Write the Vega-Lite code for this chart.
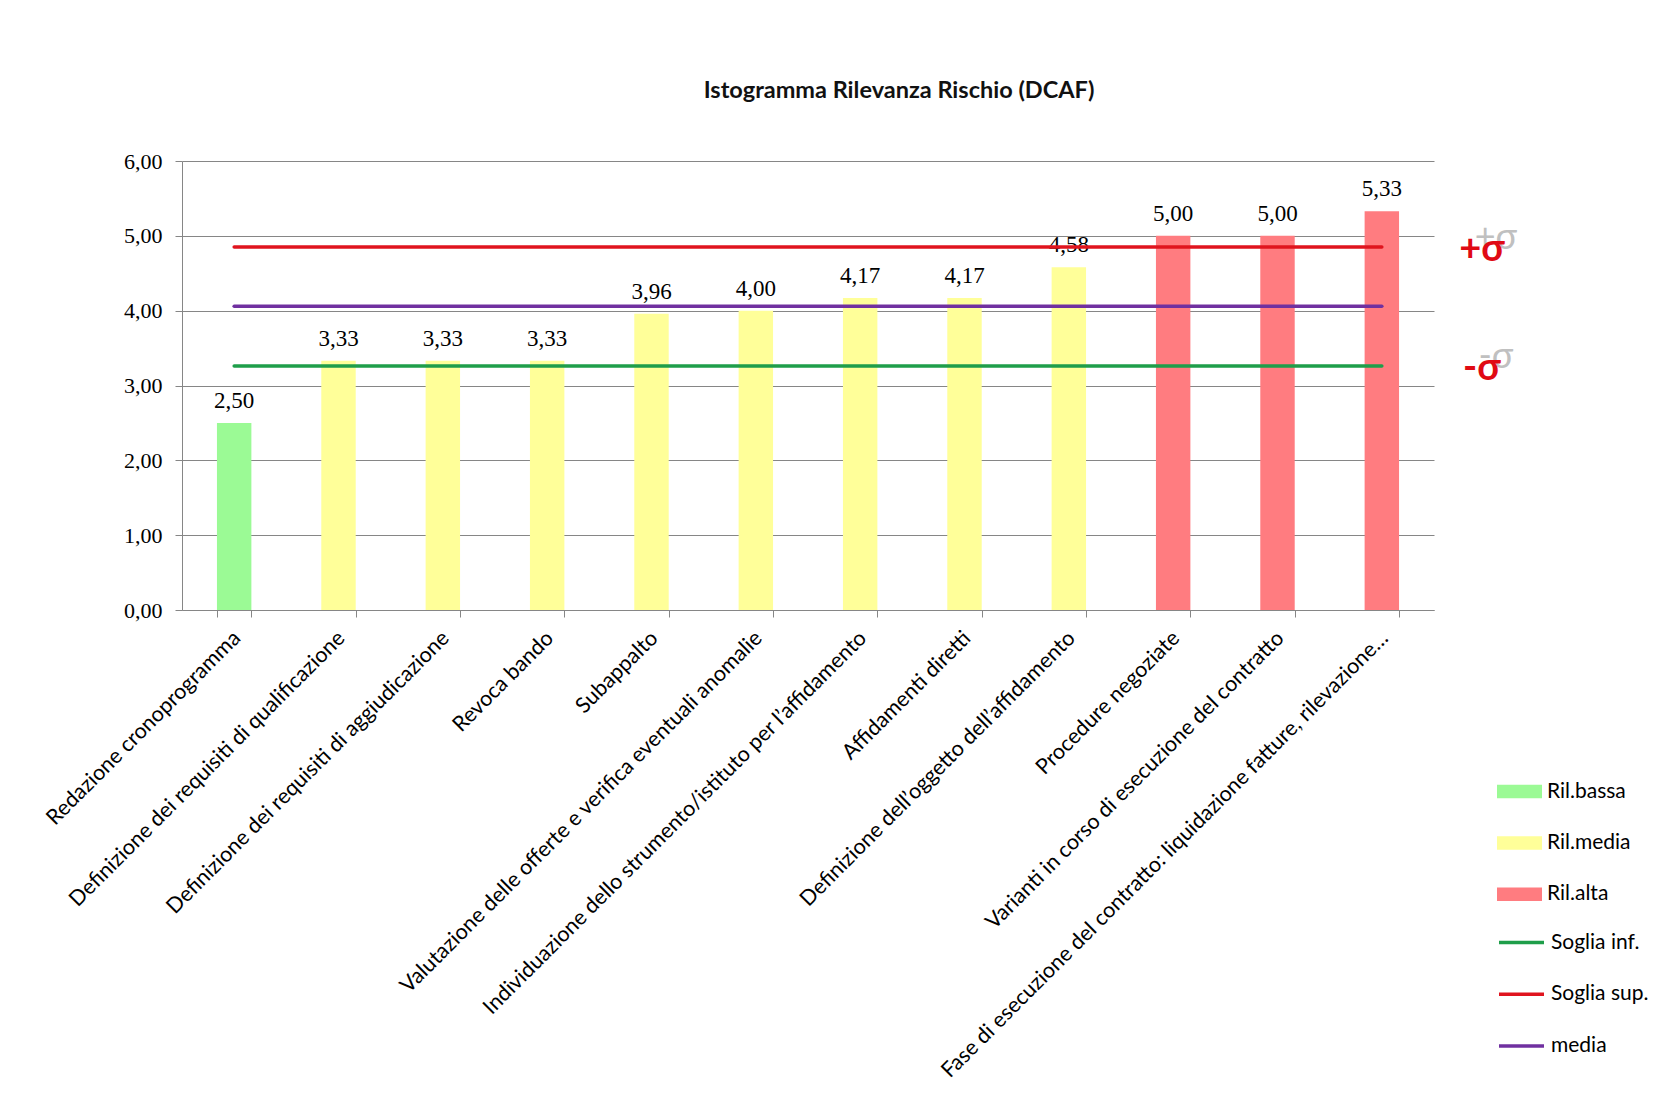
{
  "$schema": "https://vega.github.io/schema/vega-lite/v6.json",
  "width": 1252,
  "height": 449,
  "autosize": {"type": "none"},
  "padding": {"left": 182, "top": 161, "right": 245, "bottom": 504},
  "background": "white",
  "title": {
    "text": "Istogramma Rilevanza Rischio (DCAF)",
    "font": "Lato",
    "fontSize": 23.5,
    "fontWeight": "bold",
    "color": "#111111",
    "anchor": "middle",
    "frame": "group",
    "dx": 91,
    "offset": 48
  },
  "config": {
    "locale": {"number": {"decimal": ",", "thousands": ".", "grouping": [3], "currency": ["", " €"]}},
    "view": {"stroke": null}
  },
  "datasets": {
    "attivita": [
      {"attivita": "Redazione cronoprogramma", "valore": 2.50, "livello": "Ril.bassa"},
      {"attivita": "Definizione dei requisiti di qualificazione", "valore": 3.33, "livello": "Ril.media"},
      {"attivita": "Definizione dei requisiti di aggiudicazione", "valore": 3.33, "livello": "Ril.media"},
      {"attivita": "Revoca bando", "valore": 3.33, "livello": "Ril.media"},
      {"attivita": "Subappalto", "valore": 3.96, "livello": "Ril.media"},
      {"attivita": "Valutazione delle offerte e verifica eventuali anomalie", "valore": 4.00, "livello": "Ril.media"},
      {"attivita": "Individuazione dello strumento/istituto per l’affidamento", "valore": 4.17, "livello": "Ril.media"},
      {"attivita": "Affidamenti diretti", "valore": 4.17, "livello": "Ril.media"},
      {"attivita": "Definizione dell’oggetto dell’affidamento", "valore": 4.58, "livello": "Ril.media"},
      {"attivita": "Procedure negoziate", "valore": 5.00, "livello": "Ril.alta"},
      {"attivita": "Varianti in corso di esecuzione del contratto", "valore": 5.00, "livello": "Ril.alta"},
      {"attivita": "Fase di esecuzione del contratto: liquidazione fatture, rilevazione…", "valore": 5.33, "livello": "Ril.alta"}
    ],
    "soglie": [
      {"serie": "Soglia inf.", "inizio": "Redazione cronoprogramma", "fine": "Fase di esecuzione del contratto: liquidazione fatture, rilevazione…", "valore": 3.26, "simbolo": "-σ"},
      {"serie": "Soglia sup.", "inizio": "Redazione cronoprogramma", "fine": "Fase di esecuzione del contratto: liquidazione fatture, rilevazione…", "valore": 4.85, "simbolo": "+σ"},
      {"serie": "media", "inizio": "Redazione cronoprogramma", "fine": "Fase di esecuzione del contratto: liquidazione fatture, rilevazione…", "valore": 4.06, "simbolo": ""}
    ]
  },
  "layer": [
    {
      "data": {"name": "attivita"},
      "mark": {"type": "bar"},
      "encoding": {
        "x": {
          "field": "attivita",
          "type": "nominal",
          "sort": null,
          "title": null,
          "scale": {
            "domain": [
              "Redazione cronoprogramma",
              "Definizione dei requisiti di qualificazione",
              "Definizione dei requisiti di aggiudicazione",
              "Revoca bando",
              "Subappalto",
              "Valutazione delle offerte e verifica eventuali anomalie",
              "Individuazione dello strumento/istituto per l’affidamento",
              "Affidamenti diretti",
              "Definizione dell’oggetto dell’affidamento",
              "Procedure negoziate",
              "Varianti in corso di esecuzione del contratto",
              "Fase di esecuzione del contratto: liquidazione fatture, rilevazione…"
            ],
            "paddingInner": 0.67,
            "paddingOuter": 0.335
          },
          "axis": {
            "tickBand": "extent",
            "labelAngle": -45,
            "labelFont": "Lato",
            "labelFontSize": 21.5,
            "labelColor": "#000000",
            "labelLimit": 0,
            "tickSize": 7,
            "labelPadding": 10,
            "labelOffset": -5,
            "domainColor": "#868686",
            "tickColor": "#868686",
            "grid": false
          }
        },
        "y": {
          "field": "valore",
          "type": "quantitative",
          "title": null,
          "scale": {"domain": [0, 6], "nice": false},
          "axis": {
            "values": [0, 1, 2, 3, 4, 5, 6],
            "format": ".2f",
            "labelFont": "Liberation Serif",
            "labelFontSize": 22,
            "labelColor": "#000000",
            "tickSize": 7,
            "labelPadding": 13,
            "tickColor": "#868686",
            "domainColor": "#868686",
            "grid": true,
            "gridColor": "#868686"
          }
        },
        "fill": {
          "field": "livello",
          "type": "nominal",
          "scale": {"domain": ["Ril.bassa", "Ril.media", "Ril.alta"], "range": ["#9BFA95", "#FFFF99", "#FF7C80"]},
          "legend": {
            "orient": "none",
            "legendX": 1315,
            "legendY": 608,
            "title": null,
            "padding": 0,
            "symbolType": "M-1,-0.3H1V0.3H-1Z",
            "symbolSize": 2025,
            "symbolStrokeWidth": 0,
            "symbolOpacity": 1,
            "labelFont": "Lato",
            "labelFontSize": 21,
            "labelColor": "#000000",
            "labelOffset": 5,
            "rowPadding": 18.4
          }
        }
      }
    },
    {
      "data": {"name": "attivita"},
      "mark": {"type": "text", "font": "Liberation Serif", "fontSize": 23, "color": "#000000", "baseline": "alphabetic", "dy": -15},
      "encoding": {
        "x": {"field": "attivita", "type": "nominal", "sort": null, "title": null},
        "y": {"field": "valore", "type": "quantitative", "title": null},
        "text": {"field": "valore", "type": "quantitative", "format": ".2f"}
      }
    },
    {
      "data": {"name": "soglie"},
      "mark": {"type": "rule", "strokeWidth": 3.5, "strokeCap": "round"},
      "encoding": {
        "x": {"field": "inizio", "type": "nominal", "title": null},
        "x2": {"field": "fine"},
        "y": {"field": "valore", "type": "quantitative", "title": null},
        "stroke": {
          "field": "serie",
          "type": "nominal",
          "scale": {"domain": ["Soglia inf.", "Soglia sup.", "media"], "range": ["#1E9E4A", "#E0141E", "#7030A0"]},
          "legend": {
            "orient": "none",
            "legendX": 1315,
            "legendY": 757,
            "title": null,
            "padding": 0,
            "symbolType": "stroke",
            "symbolSize": 2025,
            "symbolStrokeWidth": 3.5,
            "labelFont": "Lato",
            "labelFontSize": 21,
            "labelColor": "#000000",
            "labelOffset": 5,
            "rowPadding": 16.8
          }
        }
      }
    },
    {
      "data": {"name": "soglie"},
      "mark": {"type": "text", "font": "Lato", "fontSize": 36, "fontWeight": "normal", "color": "#C0C0C0", "dx": 114, "dy": -9},
      "encoding": {
        "x": {"field": "fine", "type": "nominal", "title": null},
        "y": {"field": "valore", "type": "quantitative", "title": null},
        "text": {"field": "simbolo", "type": "nominal"}
      }
    },
    {
      "data": {"name": "soglie"},
      "mark": {"type": "text", "font": "Lato", "fontSize": 38, "fontWeight": "bold", "color": "#E00A14", "dx": 100, "dy": 3},
      "encoding": {
        "x": {"field": "fine", "type": "nominal", "title": null},
        "y": {"field": "valore", "type": "quantitative", "title": null},
        "text": {"field": "simbolo", "type": "nominal"}
      }
    }
  ]
}
